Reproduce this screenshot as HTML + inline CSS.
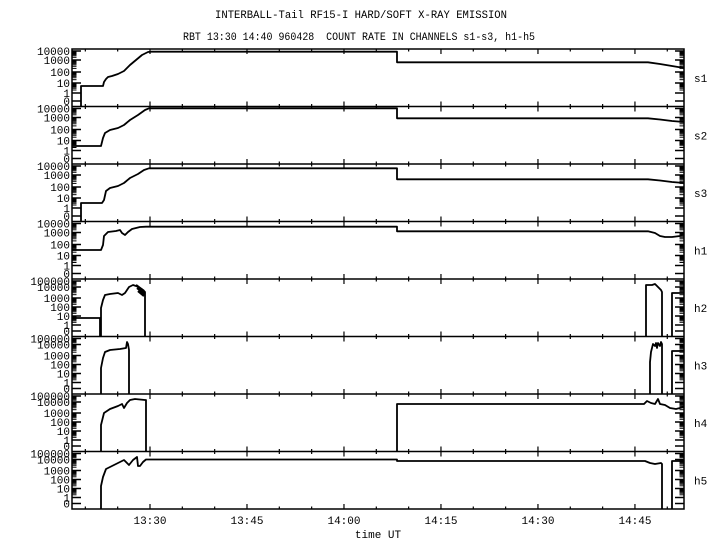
<!DOCTYPE html>
<html><head><meta charset="utf-8"><style>
html,body{margin:0;padding:0;background:#fff;}
svg{display:block;font-family:"Liberation Mono",monospace;}
</style></head><body>
<svg id="s" width="720" height="550" xmlns="http://www.w3.org/2000/svg">
<rect width="720" height="550" fill="#fff"/>
<text x="361" y="18" font-size="11" text-anchor="middle" textLength="292" lengthAdjust="spacingAndGlyphs">INTERBALL-Tail RF15-I HARD/SOFT X-RAY EMISSION</text>
<text x="359" y="40" font-size="11" text-anchor="middle" textLength="352" lengthAdjust="spacingAndGlyphs" xml:space="preserve">RBT 13:30 14:40 960428  COUNT RATE IN CHANNELS s1-s3, h1-h5</text>
<g id="g" stroke="#000" fill="none" stroke-width="1.3"></g>
<g id="t" font-size="11" fill="#000"></g>
</svg>
<script>
var g=document.getElementById('g'),t=document.getElementById('t'),NS='http://www.w3.org/2000/svg';
function el(p,n,a,txt){var e=document.createElementNS(NS,n);for(var k in a)e.setAttribute(k,a[k]);if(txt!=null)e.textContent=txt;p.appendChild(e);return e;}
function line(x1,y1,x2,y2,w){el(g,'line',{x1:x1,y1:y1,x2:x2,y2:y2,'stroke-width':w||1.2});}
function path(d,w){el(g,'path',{d:d,'stroke-width':w||1.8,'stroke-linejoin':'round'});}
var L=72,R=684,tops=[49,106.5,164,221.5,279,336.5,394,451.5],B=509,H=57.5;
var names=['s1','s2','s3','h1','h2','h3','h4','h5'];
el(g,'rect',{x:L,y:49,width:R-L,height:B-49,'stroke-width':1.5});
for(var i=0;i<8;i++){
 var y0=tops[i];
 if(i>0)line(L,y0,R,y0,1.5);
 // x ticks
 for(var x=150-97*15/15*0, k=-2;k<=17;k++){
  var xx=150+k*32.33; if(xx<=L+1||xx>=R-1)continue;
  var major=(k%3==0);
  var s=major?5:2.5;
  line(xx,y0-(i==0?0:s),xx,y0+s,1.2);
 }
 // y axis ticks and labels
 var h=i>=4;
 var dec=h?[[5,2],[4,8],[3,19],[2,28],[1,37],[0,46]]:[[4,2],[3,11],[2,23],[1,34],[0,44]];
 for(var j=0;j<dec.length;j++){
  var yy=y0+dec[j][1];
  line(L,yy,L+9,yy,1.5);line(R,yy,R-9,yy,1.5);
  el(t,'text',{x:70,y:yy+4,'text-anchor':'end','font-size':11},String(Math.pow(10,dec[j][0])));
  if(j<dec.length-1){var yn=y0+dec[j+1][1];
   for(var m=2;m<10;m++){var ym=yn-(yn-yy)*Math.log10(m);line(L,ym,L+4.5,ym,1);line(R,ym,R-4.5,ym,1);}
  }
 }
 var y0l=y0+52;line(L,y0l,L+9,y0l,1.5);line(R,y0l,R-9,y0l,1.5);
 el(t,'text',{x:70,y:y0l+4,'text-anchor':'end','font-size':11},'0');
 el(t,'text',{x:694,y:y0+H/2+4,'font-size':11},names[i]);
}
// bottom axis ticks
for(var k=-2;k<=17;k++){var xx=150+k*32.33;if(xx<=L+1||xx>=R-1)continue;line(xx,B,xx,B-((k%3==0)?5:2.5),1.2);}
var labs=['13:30','13:45','14:00','14:15','14:30','14:45'];
for(var k=0;k<6;k++)el(t,'text',{x:150+k*97,y:524,'text-anchor':'middle','font-size':11},labs[k]);
el(t,'text',{x:378,y:538,'text-anchor':'middle','font-size':11},'time UT');
// series
path('M81,106.5 V86 H103 L104,82 L106,79 L108,77 L112,76 L118,74 L124,71 L130,65 L136,60 L142,55 L148,52 L151,51.7 H397 V62.3 H648 L660,64 L672,66 L684,68');
path('M72,146 H101 L103,138 L105,133 L110,130 L118,128 L124,125 L130,120 L138,115 L145,110 L149,108.3 H397 V118.3 H648 L660,119.5 L672,121 L684,122');
path('M81,221.5 V203 H102 L104,200 L106,191 L110,188 L118,186 L124,183 L130,178 L138,174 L144,170 L149,168.3 H397 V179.3 H648 L660,180.5 L672,182 L684,183');
path('M72,250 H101 L103,245 L104,236 L108,232 L116,231 L120,230 L122,233 L125,235 L128,232 L132,229 L140,227 L146,226.7 H397 V231.3 H648 L655,233 L660,236 L665,237 L672,237 L680,236 L684,234');
path('M72,318 H100 V336.5 M101,336.5 V308 L103,300 L105,295 L110,294 L118,293 L122,295 L125,293 L129,287 L133,285 L136,286 L140,288 L143,290 L145,292 V336.5');
path('M136,285 L144,291 M137,288 L145,294 M138,291 L144,296',2.2);
path('M646,336.5 V285 L652,285 L655,284 L658,287 L661,290 L662,292 V336.5 M672,336.5 V293 H684');
path('M101,394 V368 L103,358 L105,352 L110,350 L120,349 L126,348 L127,342 L128,344 L129,350 V394');
path('M650,394 V362 L651,352 L653,344 L655,346 L656,343 L657,348 L658,343 L660,346 L661,342 L662,344 V394 M672,394 V351 H684');
path('M101,451.5 V425 L104,413 L110,409 L118,406 L122,404 L124,408 L127,403 L130,400 L135,399 L145,400 L146,400 V451.5 M397,451.5 V404 H644 L647,401 L651,403 L655,404 L658,399 L660,404 L665,405 L670,408 L676,409 L684,407');
path('M101,509 V486 L103,477 L106,469 L112,466 L118,463 L124,460 L127,463 L129,465 L133,460 L137,457 L138,466 L140,466 L143,462 L146,459.5 H397 V461 H645 L650,463 L655,464 L661,463 L662,464 V509 M672,509 V461 H684');
</script>
</body></html>
